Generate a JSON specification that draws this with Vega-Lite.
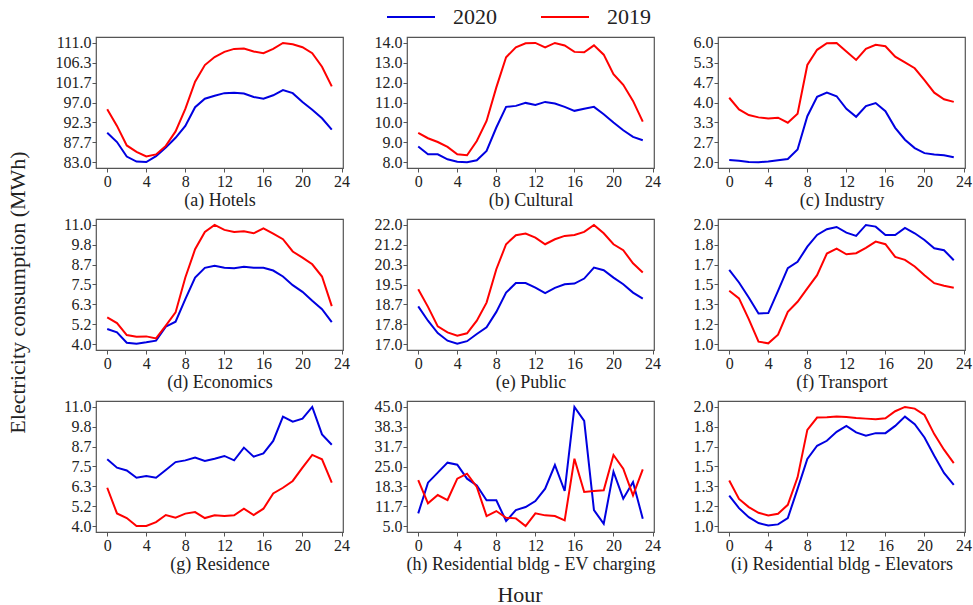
{
  "$schema": "https://vega.github.io/schema/vega-lite/v6.json",
  "background": "white",
  "padding": {"left": 5, "top": -8, "right": 0, "bottom": 0},
  "autosize": {"type": "pad"},
  "title": {"text": "Hour", "orient": "bottom", "anchor": "middle", "fontSize": 22, "fontWeight": "normal", "font": "Liberation Serif", "color": "#222", "offset": 11, "dx": 31},
  "data": {"values": [
    {"p":"a","h":0,"2020":89.9,"2019":95.4},{"p":"a","h":1,"2020":87.7,"2019":91.5},{"p":"a","h":2,"2020":84.3,"2019":86.9},{"p":"a","h":3,"2020":83.1,"2019":85.4},{"p":"a","h":4,"2020":83.0,"2019":84.3},{"p":"a","h":5,"2020":84.4,"2019":84.8},{"p":"a","h":6,"2020":86.4,"2019":86.8},{"p":"a","h":7,"2020":88.7,"2019":90.2},{"p":"a","h":8,"2020":91.5,"2019":95.5},{"p":"a","h":9,"2020":95.9,"2019":101.9},{"p":"a","h":10,"2020":97.9,"2019":105.8},{"p":"a","h":11,"2020":98.6,"2019":107.7},{"p":"a","h":12,"2020":99.2,"2019":108.9},{"p":"a","h":13,"2020":99.3,"2019":109.6},{"p":"a","h":14,"2020":99.1,"2019":109.7},{"p":"a","h":15,"2020":98.3,"2019":109.0},{"p":"a","h":16,"2020":97.9,"2019":108.6},{"p":"a","h":17,"2020":98.7,"2019":109.6},{"p":"a","h":18,"2020":99.9,"2019":111.0},{"p":"a","h":19,"2020":99.2,"2019":110.7},{"p":"a","h":20,"2020":97.1,"2019":110.0},{"p":"a","h":21,"2020":95.3,"2019":108.6},{"p":"a","h":22,"2020":93.3,"2019":105.4},{"p":"a","h":23,"2020":90.6,"2019":100.8},
    {"p":"b","h":0,"2020":8.78,"2019":9.47},{"p":"b","h":1,"2020":8.39,"2019":9.20},{"p":"b","h":2,"2020":8.39,"2019":9.01},{"p":"b","h":3,"2020":8.14,"2019":8.76},{"p":"b","h":4,"2020":8.02,"2019":8.39},{"p":"b","h":5,"2020":7.99,"2019":8.34},{"p":"b","h":6,"2020":8.09,"2019":9.06},{"p":"b","h":7,"2020":8.56,"2019":10.07},{"p":"b","h":8,"2020":9.74,"2019":11.76},{"p":"b","h":9,"2020":10.78,"2019":13.28},{"p":"b","h":10,"2020":10.83,"2019":13.78},{"p":"b","h":11,"2020":10.98,"2019":13.98},{"p":"b","h":12,"2020":10.88,"2019":14.0},{"p":"b","h":13,"2020":11.03,"2019":13.78},{"p":"b","h":14,"2020":10.95,"2019":14.0},{"p":"b","h":15,"2020":10.78,"2019":13.87},{"p":"b","h":16,"2020":10.58,"2019":13.55},{"p":"b","h":17,"2020":10.68,"2019":13.53},{"p":"b","h":18,"2020":10.78,"2019":13.88},{"p":"b","h":19,"2020":10.41,"2019":13.41},{"p":"b","h":20,"2020":9.99,"2019":12.43},{"p":"b","h":21,"2020":9.60,"2019":11.89},{"p":"b","h":22,"2020":9.27,"2019":11.08},{"p":"b","h":23,"2020":9.10,"2019":10.04},
    {"p":"c","h":0,"2020":2.07,"2019":4.16},{"p":"c","h":1,"2020":2.04,"2019":3.77},{"p":"c","h":2,"2020":2.0,"2019":3.58},{"p":"c","h":3,"2020":1.99,"2019":3.50},{"p":"c","h":4,"2020":2.02,"2019":3.46},{"p":"c","h":5,"2020":2.06,"2019":3.49},{"p":"c","h":6,"2020":2.10,"2019":3.32},{"p":"c","h":7,"2020":2.42,"2019":3.62},{"p":"c","h":8,"2020":3.54,"2019":5.26},{"p":"c","h":9,"2020":4.19,"2019":5.77},{"p":"c","h":10,"2020":4.33,"2019":5.99},{"p":"c","h":11,"2020":4.21,"2019":6.0},{"p":"c","h":12,"2020":3.79,"2019":5.71},{"p":"c","h":13,"2020":3.52,"2019":5.43},{"p":"c","h":14,"2020":3.88,"2019":5.80},{"p":"c","h":15,"2020":3.98,"2019":5.94},{"p":"c","h":16,"2020":3.71,"2019":5.89},{"p":"c","h":17,"2020":3.15,"2019":5.54},{"p":"c","h":18,"2020":2.75,"2019":5.35},{"p":"c","h":19,"2020":2.47,"2019":5.15},{"p":"c","h":20,"2020":2.30,"2019":4.75},{"p":"c","h":21,"2020":2.25,"2019":4.33},{"p":"c","h":22,"2020":2.23,"2019":4.11},{"p":"c","h":23,"2020":2.16,"2019":4.02},
    {"p":"d","h":0,"2020":4.88,"2019":5.57},{"p":"d","h":1,"2020":4.69,"2019":5.23},{"p":"d","h":2,"2020":4.08,"2019":4.53},{"p":"d","h":3,"2020":4.02,"2019":4.43},{"p":"d","h":4,"2020":4.10,"2019":4.45},{"p":"d","h":5,"2020":4.20,"2019":4.33},{"p":"d","h":6,"2020":5.02,"2019":5.08},{"p":"d","h":7,"2020":5.31,"2019":5.86},{"p":"d","h":8,"2020":6.64,"2019":7.91},{"p":"d","h":9,"2020":7.91,"2019":9.57},{"p":"d","h":10,"2020":8.48,"2019":10.59},{"p":"d","h":11,"2020":8.60,"2019":11.0},{"p":"d","h":12,"2020":8.48,"2019":10.71},{"p":"d","h":13,"2020":8.46,"2019":10.59},{"p":"d","h":14,"2020":8.54,"2019":10.63},{"p":"d","h":15,"2020":8.48,"2019":10.51},{"p":"d","h":16,"2020":8.48,"2019":10.80},{"p":"d","h":17,"2020":8.32,"2019":10.49},{"p":"d","h":18,"2020":7.97,"2019":10.16},{"p":"d","h":19,"2020":7.46,"2019":9.44},{"p":"d","h":20,"2020":7.07,"2019":9.08},{"p":"d","h":21,"2020":6.54,"2019":8.69},{"p":"d","h":22,"2020":6.05,"2019":7.97},{"p":"d","h":23,"2020":5.29,"2019":6.23},
    {"p":"e","h":0,"2020":18.58,"2019":19.30},{"p":"e","h":1,"2020":17.98,"2019":18.56},{"p":"e","h":2,"2020":17.46,"2019":17.74},{"p":"e","h":3,"2020":17.14,"2019":17.49},{"p":"e","h":4,"2020":17.01,"2019":17.35},{"p":"e","h":5,"2020":17.12,"2019":17.45},{"p":"e","h":6,"2020":17.42,"2019":17.98},{"p":"e","h":7,"2020":17.70,"2019":18.74},{"p":"e","h":8,"2020":18.35,"2019":20.14},{"p":"e","h":9,"2020":19.16,"2019":21.19},{"p":"e","h":10,"2020":19.56,"2019":21.57},{"p":"e","h":11,"2020":19.56,"2019":21.64},{"p":"e","h":12,"2020":19.37,"2019":21.47},{"p":"e","h":13,"2020":19.14,"2019":21.19},{"p":"e","h":14,"2020":19.36,"2019":21.40},{"p":"e","h":15,"2020":19.51,"2019":21.54},{"p":"e","h":16,"2020":19.54,"2019":21.58},{"p":"e","h":17,"2020":19.75,"2019":21.71},{"p":"e","h":18,"2020":20.21,"2019":22.0},{"p":"e","h":19,"2020":20.10,"2019":21.65},{"p":"e","h":20,"2020":19.79,"2019":21.19},{"p":"e","h":21,"2020":19.51,"2019":20.94},{"p":"e","h":22,"2020":19.16,"2019":20.39},{"p":"e","h":23,"2020":18.91,"2019":20.00},
    {"p":"f","h":0,"2020":1.623,"2019":1.447},{"p":"f","h":1,"2020":1.517,"2019":1.383},{"p":"f","h":2,"2020":1.391,"2019":1.209},{"p":"f","h":3,"2020":1.257,"2019":1.020},{"p":"f","h":4,"2020":1.260,"2019":1.006},{"p":"f","h":5,"2020":1.447,"2019":1.078},{"p":"f","h":6,"2020":1.637,"2019":1.271},{"p":"f","h":7,"2020":1.690,"2019":1.355},{"p":"f","h":8,"2020":1.818,"2019":1.467},{"p":"f","h":9,"2020":1.916,"2019":1.578},{"p":"f","h":10,"2020":1.964,"2019":1.760},{"p":"f","h":11,"2020":1.983,"2019":1.802},{"p":"f","h":12,"2020":1.936,"2019":1.754},{"p":"f","h":13,"2020":1.908,"2019":1.763},{"p":"f","h":14,"2020":2.0,"2019":1.807},{"p":"f","h":15,"2020":1.986,"2019":1.860},{"p":"f","h":16,"2020":1.916,"2019":1.838},{"p":"f","h":17,"2020":1.916,"2019":1.732},{"p":"f","h":18,"2020":1.975,"2019":1.707},{"p":"f","h":19,"2020":1.930,"2019":1.651},{"p":"f","h":20,"2020":1.874,"2019":1.578},{"p":"f","h":21,"2020":1.804,"2019":1.511},{"p":"f","h":22,"2020":1.788,"2019":1.489},{"p":"f","h":23,"2020":1.704,"2019":1.472},
    {"p":"g","h":0,"2020":7.92,"2019":6.25},{"p":"g","h":1,"2020":7.43,"2019":4.74},{"p":"g","h":2,"2020":7.27,"2019":4.47},{"p":"g","h":3,"2020":6.84,"2019":4.0},{"p":"g","h":4,"2020":6.94,"2019":4.0},{"p":"g","h":5,"2020":6.84,"2019":4.23},{"p":"g","h":6,"2020":7.29,"2019":4.65},{"p":"g","h":7,"2020":7.76,"2019":4.49},{"p":"g","h":8,"2020":7.86,"2019":4.73},{"p":"g","h":9,"2020":8.02,"2019":4.82},{"p":"g","h":10,"2020":7.82,"2019":4.47},{"p":"g","h":11,"2020":7.96,"2019":4.63},{"p":"g","h":12,"2020":8.12,"2019":4.59},{"p":"g","h":13,"2020":7.86,"2019":4.63},{"p":"g","h":14,"2020":8.61,"2019":5.02},{"p":"g","h":15,"2020":8.08,"2019":4.65},{"p":"g","h":16,"2020":8.27,"2019":5.02},{"p":"g","h":17,"2020":9.00,"2019":5.92},{"p":"g","h":18,"2020":10.43,"2019":6.25},{"p":"g","h":19,"2020":10.14,"2019":6.65},{"p":"g","h":20,"2020":10.31,"2019":7.43},{"p":"g","h":21,"2020":11.0,"2019":8.18},{"p":"g","h":22,"2020":9.39,"2019":7.92},{"p":"g","h":23,"2020":8.78,"2019":6.55},
    {"p":"h","h":0,"2020":9.26,"2019":20.46},{"p":"h","h":1,"2020":19.57,"2019":12.62},{"p":"h","h":2,"2020":22.93,"2019":15.42},{"p":"h","h":3,"2020":26.29,"2019":13.74},{"p":"h","h":4,"2020":25.62,"2019":20.91},{"p":"h","h":5,"2020":20.91,"2019":22.59},{"p":"h","h":6,"2020":18.67,"2019":18.11},{"p":"h","h":7,"2020":13.63,"2019":8.36},{"p":"h","h":8,"2020":13.63,"2019":10.04},{"p":"h","h":9,"2020":6.68,"2019":7.80},{"p":"h","h":10,"2020":10.38,"2019":7.58},{"p":"h","h":11,"2020":11.39,"2019":5.0},{"p":"h","h":12,"2020":13.41,"2019":9.26},{"p":"h","h":13,"2020":17.55,"2019":8.59},{"p":"h","h":14,"2020":25.5,"2019":8.36},{"p":"h","h":15,"2020":16.77,"2019":6.90},{"p":"h","h":16,"2020":45.0,"2019":27.63},{"p":"h","h":17,"2020":40.3,"2019":16.43},{"p":"h","h":18,"2020":10.38,"2019":16.77},{"p":"h","h":19,"2020":5.78,"2019":16.99},{"p":"h","h":20,"2020":23.26,"2019":28.87},{"p":"h","h":21,"2020":14.19,"2019":24.28},{"p":"h","h":22,"2020":19.79,"2019":15.31},{"p":"h","h":23,"2020":7.47,"2019":24.05},
    {"p":"i","h":0,"2020":1.256,"2019":1.382},{"p":"i","h":1,"2020":1.150,"2019":1.228},{"p":"i","h":2,"2020":1.075,"2019":1.159},{"p":"i","h":3,"2020":1.025,"2019":1.111},{"p":"i","h":4,"2020":1.005,"2019":1.089},{"p":"i","h":5,"2020":1.014,"2019":1.103},{"p":"i","h":6,"2020":1.067,"2019":1.178},{"p":"i","h":7,"2020":1.312,"2019":1.409},{"p":"i","h":8,"2020":1.563,"2019":1.808},{"p":"i","h":9,"2020":1.674,"2019":1.911},{"p":"i","h":10,"2020":1.716,"2019":1.914},{"p":"i","h":11,"2020":1.791,"2019":1.919},{"p":"i","h":12,"2020":1.841,"2019":1.916},{"p":"i","h":13,"2020":1.786,"2019":1.908},{"p":"i","h":14,"2020":1.758,"2019":1.902},{"p":"i","h":15,"2020":1.780,"2019":1.897},{"p":"i","h":16,"2020":1.780,"2019":1.905},{"p":"i","h":17,"2020":1.841,"2019":1.964},{"p":"i","h":18,"2020":1.919,"2019":2.0},{"p":"i","h":19,"2020":1.855,"2019":1.986},{"p":"i","h":20,"2020":1.744,"2019":1.933},{"p":"i","h":21,"2020":1.591,"2019":1.772},{"p":"i","h":22,"2020":1.446,"2019":1.641},{"p":"i","h":23,"2020":1.345,"2019":1.529}
  ]},
  "columns": 3,
  "bounds": "flush",
  "spacing": {"row": 51, "column": 64},
  "concat": [
    {"width": 247, "height": 131, "transform": [{"filter": "datum.p == 'a'"}, {"fold": ["2020", "2019"], "as": ["year", "value"]}], "mark": {"type": "line", "strokeWidth": 2},
     "encoding": {"x": {"field": "h", "type": "quantitative", "scale": {"domain": [-1.15, 24.15], "nice": false, "zero": false}, "axis": {"values": [0,4,8,12,16,20,24], "title": "(a) Hotels"}},
      "y": {"field": "value", "type": "quantitative", "scale": {"domain": [81.6, 112.4], "nice": false, "zero": false}, "axis": {"values": [83, 87.6667, 92.3333, 97, 101.6667, 106.3333, 111], "format": ".1f", "title": null}},
      "color": {"field": "year", "type": "nominal", "scale": {"domain": ["2020", "2019"], "range": ["#0000e0", "#ff0000"]}, "legend": {"orient": "none", "legendX": 290, "legendY": -45, "direction": "horizontal", "title": null, "symbolType": "stroke", "symbolSize": 2304, "symbolStrokeWidth": 2, "labelFontSize": 22, "labelOffset": 17, "columnPadding": 40, "labelColor": "#222", "labelFont": "Liberation Serif"}}}},
    {"width": 247, "height": 131, "transform": [{"filter": "datum.p == 'b'"}, {"fold": ["2020", "2019"], "as": ["year", "value"]}], "mark": {"type": "line", "strokeWidth": 2},
     "encoding": {"x": {"field": "h", "type": "quantitative", "scale": {"domain": [-1.15, 24.15], "nice": false, "zero": false}, "axis": {"values": [0,4,8,12,16,20,24], "title": "(b) Cultural"}},
      "y": {"field": "value", "type": "quantitative", "scale": {"domain": [7.7, 14.3], "nice": false, "zero": false}, "axis": {"values": [8, 9, 10, 11, 12, 13, 14], "format": ".1f", "title": null}},
      "color": {"field": "year", "type": "nominal", "scale": {"domain": ["2020", "2019"], "range": ["#0000e0", "#ff0000"]}}}},
    {"width": 247, "height": 131, "transform": [{"filter": "datum.p == 'c'"}, {"fold": ["2020", "2019"], "as": ["year", "value"]}], "mark": {"type": "line", "strokeWidth": 2},
     "encoding": {"x": {"field": "h", "type": "quantitative", "scale": {"domain": [-1.15, 24.15], "nice": false, "zero": false}, "axis": {"values": [0,4,8,12,16,20,24], "title": "(c) Industry"}},
      "y": {"field": "value", "type": "quantitative", "scale": {"domain": [1.8, 6.2], "nice": false, "zero": false}, "axis": {"values": [2, 2.6667, 3.3333, 4, 4.6667, 5.3333, 6], "format": ".1f", "title": null}},
      "color": {"field": "year", "type": "nominal", "scale": {"domain": ["2020", "2019"], "range": ["#0000e0", "#ff0000"]}}}},
    {"width": 247, "height": 131, "transform": [{"filter": "datum.p == 'd'"}, {"fold": ["2020", "2019"], "as": ["year", "value"]}], "mark": {"type": "line", "strokeWidth": 2},
     "encoding": {"x": {"field": "h", "type": "quantitative", "scale": {"domain": [-1.15, 24.15], "nice": false, "zero": false}, "axis": {"values": [0,4,8,12,16,20,24], "title": "(d) Economics"}},
      "y": {"field": "value", "type": "quantitative", "scale": {"domain": [3.65, 11.35], "nice": false, "zero": false}, "axis": {"values": [4, 5.1667, 6.3333, 7.5, 8.6667, 9.8333, 11], "format": ".1f", "title": "Electricity consumption (MWh)", "titleFontSize": 22, "titlePadding": 34, "titleY": 73}},
      "color": {"field": "year", "type": "nominal", "scale": {"domain": ["2020", "2019"], "range": ["#0000e0", "#ff0000"]}}}},
    {"width": 247, "height": 131, "transform": [{"filter": "datum.p == 'e'"}, {"fold": ["2020", "2019"], "as": ["year", "value"]}], "mark": {"type": "line", "strokeWidth": 2},
     "encoding": {"x": {"field": "h", "type": "quantitative", "scale": {"domain": [-1.15, 24.15], "nice": false, "zero": false}, "axis": {"values": [0,4,8,12,16,20,24], "title": "(e) Public"}},
      "y": {"field": "value", "type": "quantitative", "scale": {"domain": [16.75, 22.25], "nice": false, "zero": false}, "axis": {"values": [17, 17.8333, 18.6667, 19.5, 20.3333, 21.1667, 22], "format": ".1f", "title": null}},
      "color": {"field": "year", "type": "nominal", "scale": {"domain": ["2020", "2019"], "range": ["#0000e0", "#ff0000"]}}}},
    {"width": 247, "height": 131, "transform": [{"filter": "datum.p == 'f'"}, {"fold": ["2020", "2019"], "as": ["year", "value"]}], "mark": {"type": "line", "strokeWidth": 2},
     "encoding": {"x": {"field": "h", "type": "quantitative", "scale": {"domain": [-1.15, 24.15], "nice": false, "zero": false}, "axis": {"values": [0,4,8,12,16,20,24], "title": "(f) Transport"}},
      "y": {"field": "value", "type": "quantitative", "scale": {"domain": [0.95, 2.05], "nice": false, "zero": false}, "axis": {"values": [1, 1.1667, 1.3333, 1.5, 1.6667, 1.8333, 2], "format": ".1f", "title": null}},
      "color": {"field": "year", "type": "nominal", "scale": {"domain": ["2020", "2019"], "range": ["#0000e0", "#ff0000"]}}}},
    {"width": 247, "height": 131, "transform": [{"filter": "datum.p == 'g'"}, {"fold": ["2020", "2019"], "as": ["year", "value"]}], "mark": {"type": "line", "strokeWidth": 2},
     "encoding": {"x": {"field": "h", "type": "quantitative", "scale": {"domain": [-1.15, 24.15], "nice": false, "zero": false}, "axis": {"values": [0,4,8,12,16,20,24], "title": "(g) Residence"}},
      "y": {"field": "value", "type": "quantitative", "scale": {"domain": [3.65, 11.35], "nice": false, "zero": false}, "axis": {"values": [4, 5.1667, 6.3333, 7.5, 8.6667, 9.8333, 11], "format": ".1f", "title": null}},
      "color": {"field": "year", "type": "nominal", "scale": {"domain": ["2020", "2019"], "range": ["#0000e0", "#ff0000"]}}}},
    {"width": 247, "height": 131, "transform": [{"filter": "datum.p == 'h'"}, {"fold": ["2020", "2019"], "as": ["year", "value"]}], "mark": {"type": "line", "strokeWidth": 2},
     "encoding": {"x": {"field": "h", "type": "quantitative", "scale": {"domain": [-1.15, 24.15], "nice": false, "zero": false}, "axis": {"values": [0,4,8,12,16,20,24], "title": "(h) Residential bldg - EV charging"}},
      "y": {"field": "value", "type": "quantitative", "scale": {"domain": [3, 47], "nice": false, "zero": false}, "axis": {"values": [5, 11.6667, 18.3333, 25, 31.6667, 38.3333, 45], "format": ".1f", "title": null}},
      "color": {"field": "year", "type": "nominal", "scale": {"domain": ["2020", "2019"], "range": ["#0000e0", "#ff0000"]}}}},
    {"width": 247, "height": 131, "transform": [{"filter": "datum.p == 'i'"}, {"fold": ["2020", "2019"], "as": ["year", "value"]}], "mark": {"type": "line", "strokeWidth": 2},
     "encoding": {"x": {"field": "h", "type": "quantitative", "scale": {"domain": [-1.15, 24.15], "nice": false, "zero": false}, "axis": {"values": [0,4,8,12,16,20,24], "title": "(i) Residential bldg - Elevators"}},
      "y": {"field": "value", "type": "quantitative", "scale": {"domain": [0.95, 2.05], "nice": false, "zero": false}, "axis": {"values": [1, 1.1667, 1.3333, 1.5, 1.6667, 1.8333, 2], "format": ".1f", "title": null}},
      "color": {"field": "year", "type": "nominal", "scale": {"domain": ["2020", "2019"], "range": ["#0000e0", "#ff0000"]}}}}
  ],
  "config": {
    "font": "Liberation Serif",
    "view": {"stroke": "#555", "strokeWidth": 1.2},
    "axis": {"grid": false, "domain": false, "tickSize": 4, "tickColor": "#555", "labelFontSize": 16, "labelColor": "#222", "labelFont": "Liberation Serif", "titleFont": "Liberation Serif", "titleFontSize": 18, "titleFontWeight": "normal", "titleColor": "#222", "labelPadding": 1},
    "axisX": {"titlePadding": 2},
    "legend": {"padding": 0}
  }
}
